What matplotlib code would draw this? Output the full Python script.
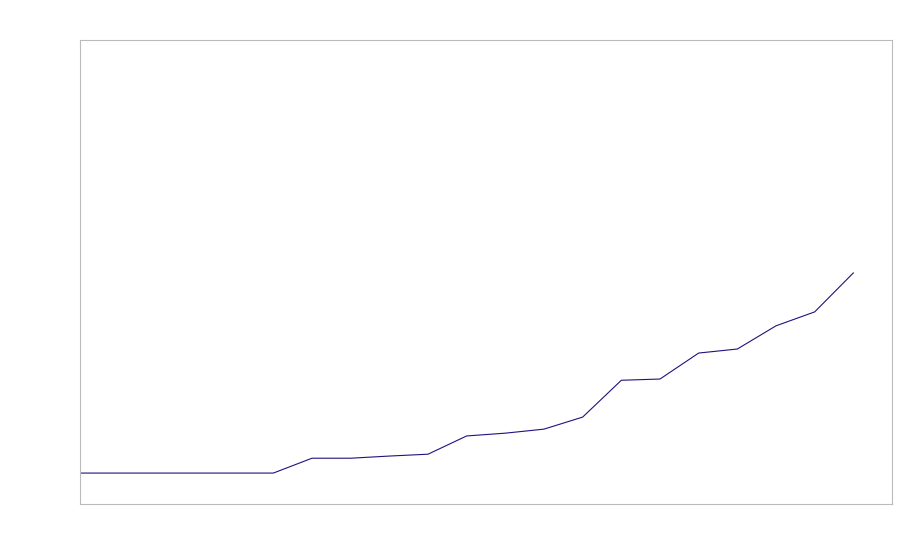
import matplotlib
matplotlib.use("Agg")
import matplotlib.pyplot as plt

x_index = list(range(21))
values = [0, 0, 0, 0, 0, 0, 0.48, 0.48, 0.55, 0.61, 1.2, 1.29, 1.42, 1.81,
          3.0, 3.04, 3.88, 4.01, 4.76, 5.21, 6.47]

fig = plt.figure(figsize=(9, 5.6), dpi=100)
ax = fig.add_axes([80/900, 56/560, 812/900, 464/560])
ax.plot(x_index, values, color="#24107f", linewidth=0.8)
ax.set_xlim(0, 21)
ax.set_ylim(-1, 14)
ax.set_xticks([])
ax.set_yticks([])
for s in ax.spines.values():
    s.set_color("#bbbbbb")
    s.set_linewidth(0.8)
fig.savefig("out.png", dpi=100)
